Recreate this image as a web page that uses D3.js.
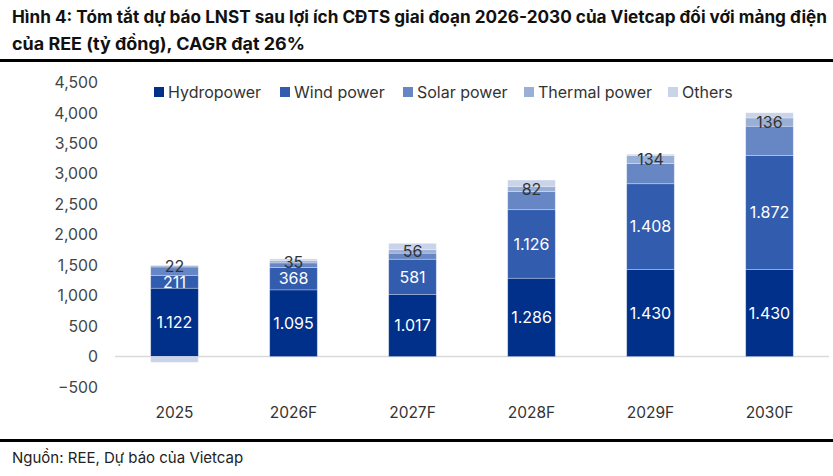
<!DOCTYPE html>
<html>
<head>
<meta charset="utf-8">
<script src="https://cdn.jsdelivr.net/npm/d3@7"></script>
<style>
  body { margin: 0; background: #fff; }
  svg { display: block; font-family: Inter, Roboto, sans-serif; }
</style>
</head>
<body>
<svg id="chart" width="833" height="476"></svg>
<script>
// data (tỷ đồng)
const years = ['2025', '2026F', '2027F', '2028F', '2029F', '2030F'];
const seriesNames = ['Hydropower', 'Wind power', 'Solar power', 'Thermal power', 'Others'];
const hydro = [1122, 1095, 1017, 1286, 1430, 1430];
const wind = [211, 368, 581, 1126, 1408, 1872];
const solar = [138, 75, 100, 300, 330, 480];
const thermal = [22, 35, 56, 82, 134, 136];
const others = [-95, 30, 105, 104, 20, 85];
const yTicks = [-500, 0, 500, 1000, 1500, 2000, 2500, 3000, 3500, 4000, 4500];

const colors = ['#00308a', '#325cad', '#6787c4', '#9aafd6', '#c9d3ea'];
const labelled = { 'Hydropower': '#fff', 'Wind power': '#fff', 'Thermal power': '#333' };

const rows = years.map((y, i) => ({
    year: y,
    'Hydropower': hydro[i],
    'Wind power': wind[i],
    'Solar power': solar[i],
    'Thermal power': thermal[i],
    'Others': others[i]
}));

const svg = d3.select('#chart');

// title and rules
svg.append('text').attr('x', 12).attr('y', 23)
    .attr('font-size', 17).attr('font-weight', 700).attr('fill', '#111')
    .attr('textLength', 815).attr('lengthAdjust', 'spacingAndGlyphs')
    .text('Hình 4: Tóm tắt dự báo LNST sau lợi ích CĐTS giai đoạn 2026-2030 của Vietcap đối với mảng điện');
svg.append('text').attr('x', 12).attr('y', 50)
    .attr('font-size', 17).attr('font-weight', 700).attr('fill', '#111')
    .attr('textLength', 293).attr('lengthAdjust', 'spacingAndGlyphs')
    .text('của REE (tỷ đồng), CAGR đạt 26%');
svg.append('rect').attr('x', 0).attr('y', 59).attr('width', 833).attr('height', 3).attr('fill', '#000');
svg.append('rect').attr('x', 0).attr('y', 439).attr('width', 833).attr('height', 3).attr('fill', '#000');
svg.append('text').attr('x', 12).attr('y', 463)
    .attr('font-size', 15).attr('fill', '#222')
    .text('Nguồn: REE, Dự báo của Vietcap');

const x = d3.scaleBand().domain(years).range([115, 829]).paddingInner(0.6).paddingOuter(0.3);
const y = d3.scaleLinear().domain([-500, 4500]).range([387, 82.5]);

// y axis: labels only
const yAxis = svg.append('g')
    .attr('transform', 'translate(98,0)')
    .call(d3.axisLeft(y).tickValues(yTicks).tickFormat(d3.format(',')).tickSize(0).tickPadding(0));
yAxis.select('.domain').remove();
yAxis.selectAll('text').attr('font-size', 15.8).attr('fill', '#444').attr('font-family', 'Inter, Roboto, sans-serif');

// zero line
svg.append('line')
    .attr('x1', 115).attr('x2', 829)
    .attr('y1', y(0)).attr('y2', y(0))
    .attr('stroke', '#d9d9d9').attr('stroke-width', 1.5);

const stacked = d3.stack().keys(seriesNames).offset(d3.stackOffsetDiverging)(rows);

const layers = svg.append('g').selectAll('g')
    .data(stacked)
    .join('g')
    .attr('fill', (d, i) => colors[i]);

layers.selectAll('rect')
    .data(d => d)
    .join('rect')
    .attr('x', d => x(d.data.year))
    .attr('width', x.bandwidth())
    .attr('y', d => y(Math.max(d[0], d[1])))
    .attr('height', d => Math.abs(y(d[0]) - y(d[1])))
    .attr('stroke', '#ffffff')
    .attr('stroke-opacity', 0.35)
    .attr('stroke-width', 0.8);

// data labels
const fmt = v => v >= 1000 ? d3.format(',')(v).replace(',', '.') : String(v);
stacked.filter(s => labelled[s.key]).forEach(s => {
    svg.append('g').selectAll('text')
        .data(s)
        .join('text')
        .attr('x', d => x(d.data.year) + x.bandwidth() / 2)
        .attr('y', d => (y(d[0]) + y(d[1])) / 2)
        .attr('dy', '0.36em')
        .attr('text-anchor', 'middle')
        .attr('font-size', 16)
        .attr('fill', labelled[s.key])
        .text(d => fmt(d.data[s.key]));
});

// x labels
svg.append('g').selectAll('text')
    .data(years)
    .join('text')
    .attr('x', d => x(d) + x.bandwidth() / 2)
    .attr('y', 418)
    .attr('text-anchor', 'middle')
    .attr('font-size', 15.5)
    .attr('fill', '#333')
    .text(d => d);

// legend
const legendX = [154, 280, 403, 524, 668];
const legend = svg.append('g').selectAll('g')
    .data(seriesNames)
    .join('g')
    .attr('transform', (d, i) => `translate(${legendX[i]},92)`);
legend.append('rect').attr('x', 0).attr('y', -5).attr('width', 10).attr('height', 10)
    .attr('fill', (d, i) => colors[i]);
legend.append('text').attr('x', 14).attr('dy', '0.36em')
    .attr('font-size', 16).attr('fill', '#333')
    .text(d => d);
</script>
</body>
</html>
